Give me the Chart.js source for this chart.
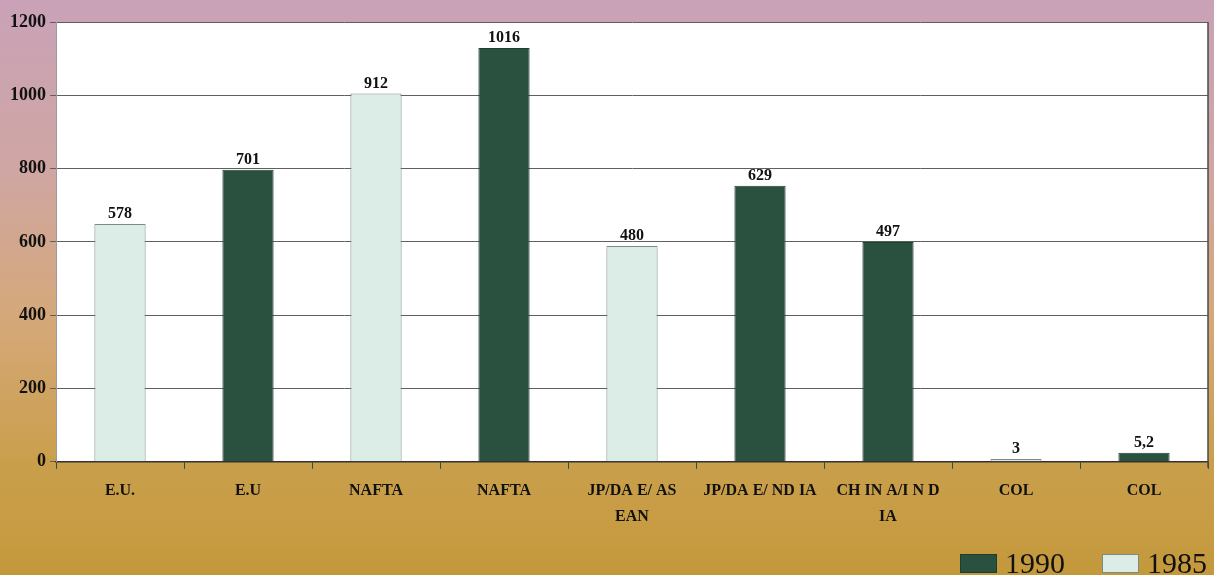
<!DOCTYPE html>
<html>
<head>
<meta charset="utf-8">
<script src="https://cdn.jsdelivr.net/npm/chart.js@4/dist/chart.umd.min.js"></script>
<style>
  html, body { margin: 0; padding: 0; }
  body {
    width: 1214px; height: 575px; overflow: hidden;
    background: linear-gradient(180deg, #c9a2b8 0%, #cfa6a2 30%, #d5a87a 55%, #ca9f4c 80%, #c4993c 100%);
  }
  #wrap { position: relative; width: 1214px; height: 575px; }
</style>
</head>
<body>
<div id="wrap"><canvas id="chart"></canvas></div>
<script>
  // categories and values
  const categories = ['E.U.', 'E.U', 'NAFTA', 'NAFTA', ['JP/DA E/ AS', 'EAN'], 'JP/DA E/ ND IA', ['CH IN A/I N D', 'IA'], 'COL', 'COL'];
  const values1990 = [null, 797, null, 1129, null, 753, 600, null, 25];
  const values1985 = [649, null, 1005, null, 589, null, null, 8, null];
  // numbers printed above the bars
  const printedLabels = ['578', '701', '912', '1016', '480', '629', '497', '3', '5,2'];
  const yTicks = [0, 200, 400, 600, 800, 1000, 1200];

  const serif = "'Liberation Serif', 'Times New Roman', serif";
  const darkGreen = '#2a503f';
  const lightGreen = '#dcece6';

  // white plot area and right frame line
  const plotBackground = {
    id: 'plotBackground',
    beforeDraw(chart) {
      const { ctx, chartArea: a } = chart;
      ctx.save();
      ctx.fillStyle = '#ffffff';
      ctx.fillRect(a.left, a.top, a.right - a.left, a.bottom - a.top);
      ctx.restore();
    },
    afterDraw(chart) {
      const { ctx, chartArea: a } = chart;
      ctx.save();
      ctx.strokeStyle = '#4a4a4a';
      ctx.lineWidth = 1.5;
      ctx.beginPath();
      ctx.moveTo(a.right, a.top);
      ctx.lineTo(a.right, a.bottom + 6);
      ctx.stroke();
      ctx.restore();
    }
  };

  // value labels above each bar
  const barLabels = {
    id: 'barLabels',
    afterDatasetsDraw(chart) {
      const { ctx } = chart;
      ctx.save();
      ctx.font = "bold 16px " + serif;
      ctx.fillStyle = '#111';
      ctx.textAlign = 'center';
      ctx.textBaseline = 'bottom';
      chart.data.datasets.forEach((ds, di) => {
        const meta = chart.getDatasetMeta(di);
        meta.data.forEach((bar, i) => {
          if (ds.data[i] == null) return;
          ctx.fillText(printedLabels[i], bar.x, bar.y - 2);
        });
      });
      ctx.restore();
    }
  };

  // legend in the bottom-right corner, boxes close to their text
  const cornerLegend = {
    id: 'cornerLegend',
    afterDraw(chart) {
      const { ctx } = chart;
      const boxW = 37, boxH = 19, gap = 8, itemGap = 37;
      ctx.save();
      ctx.font = "30px " + serif;
      ctx.textBaseline = 'alphabetic';
      let x = chart.width - 7;
      const items = chart.data.datasets.slice().reverse();
      items.forEach(ds => {
        const w = ctx.measureText(ds.label).width;
        const textX = x - w;
        const boxX = textX - gap - boxW;
        ctx.fillStyle = ds.backgroundColor;
        ctx.fillRect(boxX, chart.height - 21, boxW, boxH);
        ctx.strokeStyle = ds.borderColor;
        ctx.lineWidth = 1;
        ctx.strokeRect(boxX + 0.5, chart.height - 20.5, boxW - 1, boxH - 1);
        ctx.fillStyle = '#111';
        ctx.fillText(ds.label, textX, chart.height - 2);
        x = boxX - itemGap;
      });
      ctx.restore();
    }
  };

  new Chart(document.getElementById('chart'), {
    type: 'bar',
    data: {
      labels: categories,
      datasets: [
        {
          label: '1990',
          data: values1990,
          backgroundColor: darkGreen,
          borderColor: '#1f3d30',
          borderWidth: 1
        },
        {
          label: '1985',
          data: values1985,
          backgroundColor: lightGreen,
          borderColor: '#7a8a84',
          borderWidth: 1
        }
      ]
    },
    options: {
      responsive: true,
      maintainAspectRatio: false,
      animation: false,
      layout: { padding: { top: 22, right: 6, left: 0, bottom: 36 } },
      datasets: {
        bar: { grouped: false, categoryPercentage: 1, barPercentage: 0.4 }
      },
      plugins: {
        legend: { display: false },
        tooltip: { enabled: false }
      },
      scales: {
        x: {
          offset: true,
          grid: {
            offset: true,
            drawOnChartArea: false,
            tickLength: 7,
            color: '#444'
          },
          border: { color: '#333', width: 1.5 },
          ticks: {
            color: '#111',
            maxRotation: 0,
            autoSkip: false,
            padding: 9,
            font: { family: serif, size: 16, weight: 'bold', lineHeight: 1.63 }
          }
        },
        y: {
          min: 0,
          max: 1200,
          afterBuildTicks(scale) { scale.ticks = yTicks.map(v => ({ value: v })); },
          afterFit(scale) { scale.width = 56; },
          grid: { color: '#5f5f5f', lineWidth: 1, tickLength: 6 },
          border: { color: '#9a9a9a' },
          ticks: {
            color: '#111',
            padding: 4,
            callback: v => String(v),
            font: { family: serif, size: 18, weight: 'bold' }
          }
        }
      }
    },
    plugins: [plotBackground, barLabels, cornerLegend]
  });
</script>
</body>
</html>
